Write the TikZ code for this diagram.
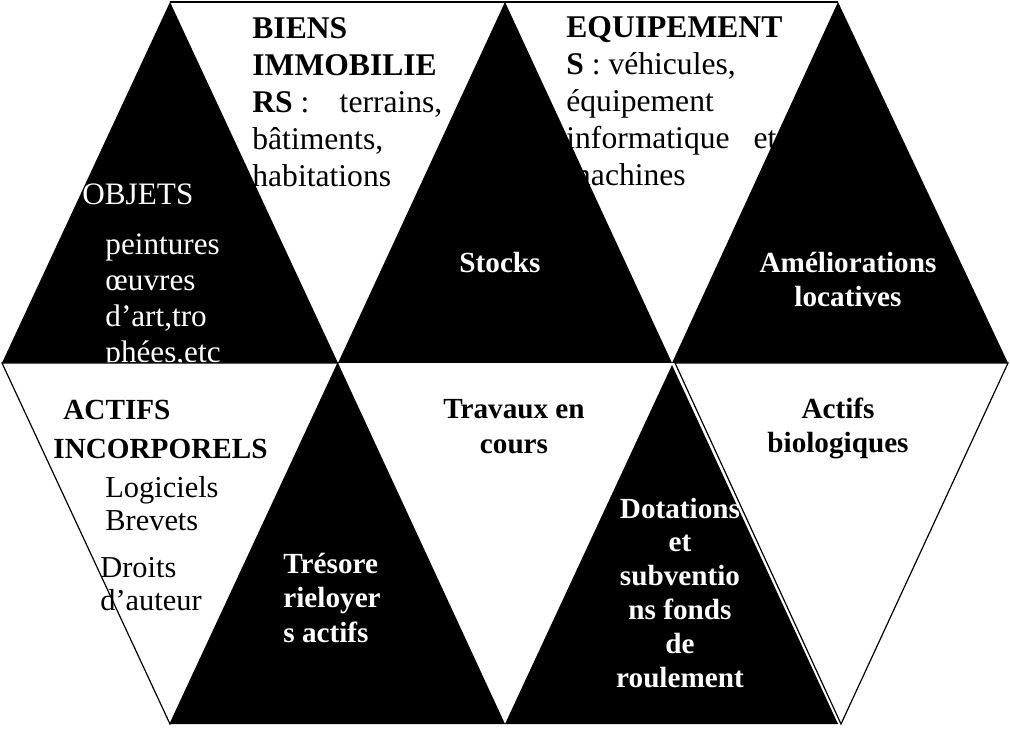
\documentclass[tikz,border=0pt]{standalone}
\usepackage{fontspec}
\setmainfont{Liberation Serif}
\usepackage{tikz}

\begin{document}
\begin{tikzpicture}[x=0.5pt, y=-0.5pt,
    every node/.style={inner sep=0pt, font=\fontsize{15.6}{18.5}\selectfont},
    toptext/.style={anchor=base west, align=left, font=\fontsize{15.8}{18.5}\selectfont},
    darklabel/.style={text=white, font=\fontsize{14.6}{17}\selectfont\bfseries, align=center},
    lightlabel/.style={text=black, font=\fontsize{14.6}{17}\selectfont\bfseries, align=center}]
    \useasboundingbox (0,0) rectangle (1010,731);
    \fill[white] (0,0) rectangle (1010,731);

    % Top row: text under the black triangles
    \draw[line width=0.6pt] (170,2) -- (838,2);
    \node[toptext] (biens) at (252,187)
        {\textbf{BIENS}\\\textbf{IMMOBILIE}\\\hbox to 95pt{\textbf{RS} :\hfill terrains,}\\bâtiments,\\habitations};
    \node[toptext] (equip) at (566,186)
        {\textbf{EQUIPEMENT}\\\textbf{S} : véhicules,\\équipement\\\hbox to 105pt{informatique\hfill et}\\machines};

    % Top row: black triangles
    \fill (2,363) -- (170,2) -- (338,363) -- cycle;
    \fill (338,363) -- (505,2) -- (672,363) -- cycle;
    \fill (672,363) -- (838,2) -- (1008,363) -- cycle;

    \node[anchor=base west, text=white] (objets) at (82,205) {OBJETS};
    \node[anchor=base west, text=white, align=left, font=\fontsize{15.6}{18}\selectfont] (objlist) at (105,363)
        {peintures\\œuvres\\d’art,tro\\phées,etc};
    \node[darklabel, anchor=base] (stocks) at (500,273) {Stocks};
    \node[darklabel, anchor=base] (amelio) at (848,307) {Améliorations\\locatives};

    % Bottom row
    \filldraw[fill=white, draw=black, line width=0.6pt] (2,363) -- (338,363) -- (170,724) -- cycle;
    \filldraw[fill=white, draw=black, line width=0.6pt] (675,363) -- (1008,363) -- (841,724) -- cycle;
    \fill (338,363) -- (170,724) -- (505,724) -- cycle;
    \fill (672,365) -- (505,724) -- (838,724) -- cycle;

    \node[lightlabel, anchor=base west, align=left, font=\fontsize{14.6}{19}\selectfont\bfseries] (actifs) at (53,458)
        {\hspace{5pt}ACTIFS\\INCORPORELS};
    \node[anchor=base west, align=left, font=\fontsize{15.2}{16.5}\selectfont] (logiciels) at (105,530) {Logiciels\\Brevets};
    \node[anchor=base west, align=left, font=\fontsize{15.2}{16.5}\selectfont] (droits) at (100,610) {Droits\\d’auteur};
    \node[darklabel, anchor=base west, align=left, font=\fontsize{14.6}{17.25}\selectfont\bfseries] (tresor) at (283,642)
        {Trésore\\rieloyer\\s actifs};
    \node[lightlabel, anchor=base, font=\fontsize{14.6}{17.5}\selectfont\bfseries] (travaux) at (514,453) {Travaux en\\cours};
    \node[darklabel, anchor=base, font=\fontsize{14.6}{16.9}\selectfont\bfseries] (dotations) at (680,687)
        {Dotations\\et\\subventio\\ns fonds\\de\\roulement};
    \node[lightlabel, anchor=base] (bio) at (838,452) {Actifs\\biologiques};
\end{tikzpicture}
\end{document}
